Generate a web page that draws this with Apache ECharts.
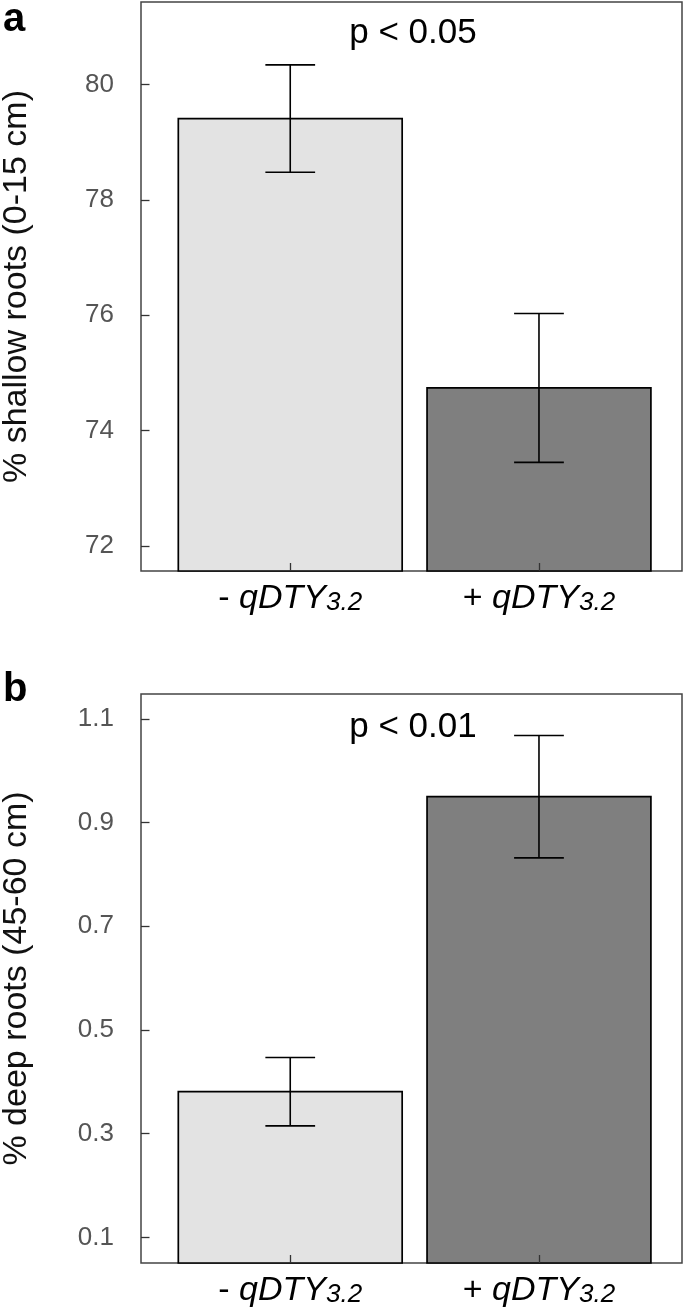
<!DOCTYPE html>
<html>
<head>
<meta charset="utf-8">
<script src="https://cdn.jsdelivr.net/npm/echarts@6/dist/echarts.min.js"></script>
<style>
html,body{margin:0;padding:0;background:#fff;}
#chart{width:685px;height:1315px;}
</style>
</head>
<body>
<div id="chart"></div>
<script>
// ---- data ----
const categorySigns = ['-', '+'];
const categoryGene = 'qDTY';
const categorySub = '3.2';
const xPositions = [1, 2];
const shallowMeans = [79.41, 74.74];
const shallowErrors = [0.93, 1.29];
const deepMeans = [0.381, 0.950];
const deepErrors = [0.066, 0.118];
const shallowTicks = [72, 74, 76, 78, 80];
const deepTicks = [0.1, 0.3, 0.5, 0.7, 0.9, 1.1];
const panelLetters = ['a', 'b'];
const pTexts = ['p < 0.05', 'p < 0.01'];
const yNames = ['% shallow roots (0-15 cm)', '% deep roots (45-60 cm)'];
const barColors = ['#e3e3e3', '#7f7f7f'];

const FONT = "'Liberation Sans', Arial, Helvetica, sans-serif";
const X_MIN = 0.4, X_MAX = 2.575;
const BAR_HALF = 0.45, CAP_HALF = 0.1;
const yRanges = [[71.567, 81.43], [0.0506, 1.148]];

const chart = echarts.init(document.getElementById('chart'), null, {renderer: 'canvas'});

function xAxisFor(gi) {
  return {
    type: 'value', gridIndex: gi, min: X_MIN, max: X_MAX, z: 10,
    axisLine: {show: false},
    splitLine: {show: false},
    axisTick: {show: true, inside: true, length: 8, customValues: xPositions,
      lineStyle: {color: '#333', width: 1.3}},
    axisLabel: {
      show: true, customValues: xPositions, margin: 9,
      formatter: function (v) {
        const i = xPositions.indexOf(v);
        if (i < 0) return '';
        return '{n|' + categorySigns[i] + ' }{i|' + categoryGene + '}{s|' + categorySub + '}';
      },
      rich: {
        n: {fontFamily: FONT, fontSize: 34, color: '#000', verticalAlign: 'bottom', lineHeight: 36},
        i: {fontFamily: FONT, fontSize: 34, fontStyle: 'italic', color: '#000', verticalAlign: 'bottom', lineHeight: 36},
        s: {fontFamily: FONT, fontSize: 26, fontStyle: 'italic', color: '#000', verticalAlign: 'bottom', lineHeight: 32}
      }
    }
  };
}

function yAxisFor(gi) {
  return {
    type: 'value', gridIndex: gi, min: yRanges[gi][0], max: yRanges[gi][1],
    axisLine: {show: false},
    splitLine: {show: false},
    axisTick: {show: true, inside: true, length: 8.5, customValues: gi === 0 ? shallowTicks : deepTicks,
      lineStyle: {color: '#333', width: 1.3}},
    axisLabel: {show: true, customValues: gi === 0 ? shallowTicks : deepTicks, margin: 27,
      fontFamily: FONT, fontSize: 26, color: '#555',
      formatter: function (v) { return gi === 0 ? String(Math.round(v)) : v.toFixed(1); }},
    name: yNames[gi], nameLocation: 'middle', nameRotate: 90, nameGap: 107,
    nameTextStyle: {fontFamily: FONT, fontSize: 34, color: '#111'}
  };
}

function barSeries(gi, means, errs) {
  const data = xPositions.map((x, i) => [x, means[i], errs[i], i]);
  return [{
    type: 'custom', xAxisIndex: gi, yAxisIndex: gi, z: 3,
    data: data,
    renderItem: function (params, api) {
      const x = api.value(0), y = api.value(1), idx = api.value(3);
      const p0 = api.coord([x - BAR_HALF, y]);
      const p1 = api.coord([x + BAR_HALF, yRanges[gi][0]]);
      return {
        type: 'rect',
        shape: {x: p0[0], y: p0[1], width: p1[0] - p0[0], height: p1[1] - p0[1]},
        style: {fill: barColors[idx], stroke: '#000', lineWidth: 1.7}
      };
    }
  }, {
    type: 'custom', xAxisIndex: gi, yAxisIndex: gi, z: 4,
    data: data,
    renderItem: function (params, api) {
      const x = api.value(0), y = api.value(1), e = api.value(2);
      const top = api.coord([x, y + e]);
      const bot = api.coord([x, y - e]);
      const cl = api.coord([x - CAP_HALF, y + e]);
      const cr = api.coord([x + CAP_HALF, y + e]);
      const bl = api.coord([x - CAP_HALF, y - e]);
      const br = api.coord([x + CAP_HALF, y - e]);
      const ls = {stroke: '#000', lineWidth: 1.6};
      return {
        type: 'group',
        children: [
          {type: 'line', shape: {x1: top[0], y1: top[1], x2: bot[0], y2: bot[1]}, style: ls},
          {type: 'line', shape: {x1: cl[0], y1: cl[1], x2: cr[0], y2: cr[1]}, style: ls},
          {type: 'line', shape: {x1: bl[0], y1: bl[1], x2: br[0], y2: br[1]}, style: ls}
        ]
      };
    }
  }];
}

const gridBase = {show: true, borderColor: '#444', borderWidth: 1.5, backgroundColor: 'transparent',
  containLabel: false, outerBoundsMode: 'none'};

const option = {
  animation: false,
  backgroundColor: '#fff',
  grid: [
    Object.assign({left: 141, top: 2, width: 541, height: 569}, gridBase),
    Object.assign({left: 141, top: 694, width: 541, height: 569}, gridBase)
  ],
  xAxis: [xAxisFor(0), xAxisFor(1)],
  yAxis: [yAxisFor(0), yAxisFor(1)],
  series: [].concat(barSeries(0, shallowMeans, shallowErrors), barSeries(1, deepMeans, deepErrors)),
  graphic: [
    {type: 'text', left: 3, top: 0, style: {text: panelLetters[0], font: 'bold 40px ' + FONT, fill: '#000'}},
    {type: 'text', left: 3, top: 670, style: {text: panelLetters[1], font: 'bold 40px ' + FONT, fill: '#000'}},
    {type: 'text', x: 413, y: 51, style: {text: pTexts[0], font: '35px ' + FONT, fill: '#000', textAlign: 'center', textVerticalAlign: 'bottom'}},
    {type: 'text', x: 413, y: 745, style: {text: pTexts[1], font: '35px ' + FONT, fill: '#000', textAlign: 'center', textVerticalAlign: 'bottom'}}
  ]
};
chart.setOption(option);
</script>
</body>
</html>
